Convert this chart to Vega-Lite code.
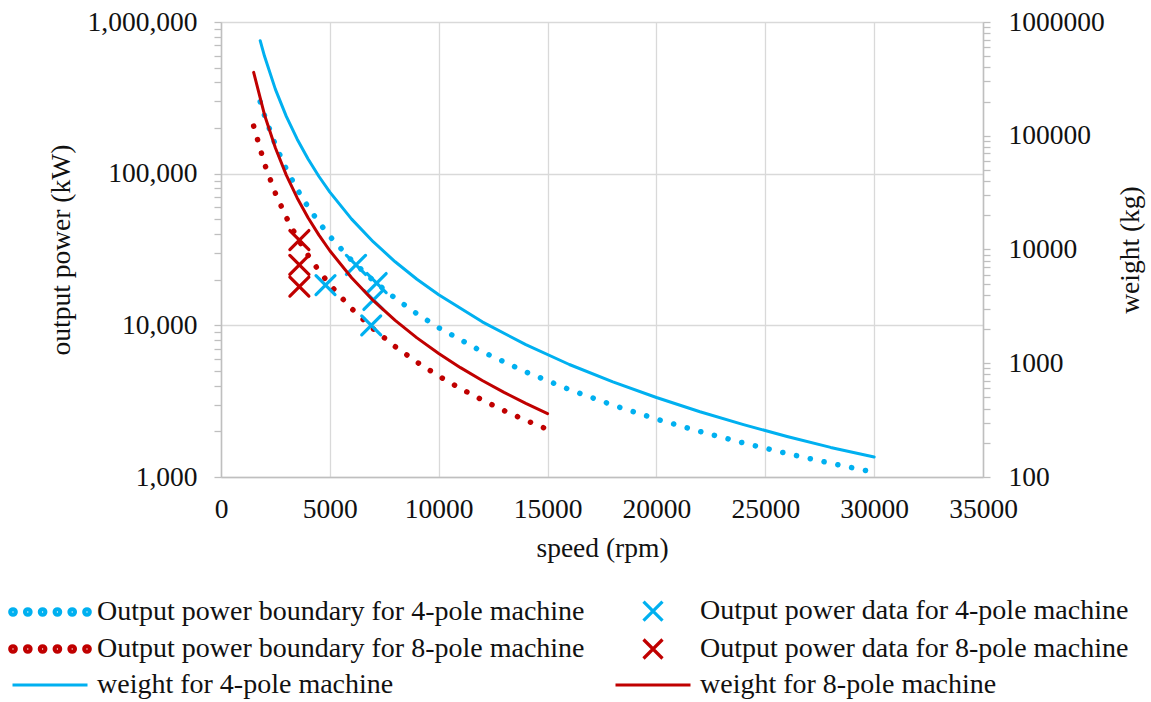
{
  "$schema": "https://vega.github.io/schema/vega-lite/v6.json",
  "width": 762,
  "height": 455,
  "autosize": {"type": "none"},
  "padding": {"left": 221, "top": 22, "right": 168, "bottom": 225},
  "background": "white",
  "config": {
    "font": "Liberation Serif",
    "view": {"stroke": null},
    "axis": {
      "labelFont": "Liberation Serif",
      "titleFont": "Liberation Serif",
      "labelFontSize": 27.5,
      "titleFontSize": 27.5,
      "titleFontWeight": "normal",
      "labelColor": "#111111",
      "titleColor": "#111111",
      "domainColor": "#bfbfbf",
      "tickColor": "#bfbfbf",
      "gridColor": "#d9d9d9",
      "domainWidth": 1.5,
      "tickWidth": 1.3,
      "gridWidth": 1.3,
      "labelFlush": false,
      "labelOverlap": false,
      "labelBound": false
    },
    "legend": {
      "labelFont": "Liberation Serif",
      "labelFontSize": 28,
      "labelColor": "#111111",
      "labelLimit": 700,
      "padding": 0
    }
  },
  "datasets": {
    "power": [
      {"series": "Output power boundary for 4-pole machine", "speed": 1800, "value": 298000},
      {"series": "Output power boundary for 4-pole machine", "speed": 2000, "value": 241400},
      {"series": "Output power boundary for 4-pole machine", "speed": 2500, "value": 154500},
      {"series": "Output power boundary for 4-pole machine", "speed": 3000, "value": 107300},
      {"series": "Output power boundary for 4-pole machine", "speed": 3500, "value": 78800},
      {"series": "Output power boundary for 4-pole machine", "speed": 4000, "value": 60300},
      {"series": "Output power boundary for 4-pole machine", "speed": 4500, "value": 47700},
      {"series": "Output power boundary for 4-pole machine", "speed": 5000, "value": 38600},
      {"series": "Output power boundary for 4-pole machine", "speed": 6000, "value": 26800},
      {"series": "Output power boundary for 4-pole machine", "speed": 7000, "value": 19700},
      {"series": "Output power boundary for 4-pole machine", "speed": 8000, "value": 15090},
      {"series": "Output power boundary for 4-pole machine", "speed": 9000, "value": 11920},
      {"series": "Output power boundary for 4-pole machine", "speed": 10000, "value": 9650},
      {"series": "Output power boundary for 4-pole machine", "speed": 12000, "value": 6700},
      {"series": "Output power boundary for 4-pole machine", "speed": 14000, "value": 4930},
      {"series": "Output power boundary for 4-pole machine", "speed": 16000, "value": 3770},
      {"series": "Output power boundary for 4-pole machine", "speed": 18000, "value": 2980},
      {"series": "Output power boundary for 4-pole machine", "speed": 20000, "value": 2410},
      {"series": "Output power boundary for 4-pole machine", "speed": 22000, "value": 1995},
      {"series": "Output power boundary for 4-pole machine", "speed": 24000, "value": 1676},
      {"series": "Output power boundary for 4-pole machine", "speed": 26000, "value": 1428},
      {"series": "Output power boundary for 4-pole machine", "speed": 28000, "value": 1232},
      {"series": "Output power boundary for 4-pole machine", "speed": 30000, "value": 1073},
      {"series": "Output power boundary for 8-pole machine", "speed": 1500, "value": 206000},
      {"series": "Output power boundary for 8-pole machine", "speed": 2000, "value": 115900},
      {"series": "Output power boundary for 8-pole machine", "speed": 2500, "value": 74200},
      {"series": "Output power boundary for 8-pole machine", "speed": 3000, "value": 51500},
      {"series": "Output power boundary for 8-pole machine", "speed": 3500, "value": 37800},
      {"series": "Output power boundary for 8-pole machine", "speed": 4000, "value": 28970},
      {"series": "Output power boundary for 8-pole machine", "speed": 4500, "value": 22890},
      {"series": "Output power boundary for 8-pole machine", "speed": 5000, "value": 18540},
      {"series": "Output power boundary for 8-pole machine", "speed": 6000, "value": 12880},
      {"series": "Output power boundary for 8-pole machine", "speed": 7000, "value": 9460},
      {"series": "Output power boundary for 8-pole machine", "speed": 8000, "value": 7240},
      {"series": "Output power boundary for 8-pole machine", "speed": 9000, "value": 5720},
      {"series": "Output power boundary for 8-pole machine", "speed": 10000, "value": 4635},
      {"series": "Output power boundary for 8-pole machine", "speed": 11000, "value": 3830},
      {"series": "Output power boundary for 8-pole machine", "speed": 12000, "value": 3220},
      {"series": "Output power boundary for 8-pole machine", "speed": 13000, "value": 2740},
      {"series": "Output power boundary for 8-pole machine", "speed": 14000, "value": 2365},
      {"series": "Output power boundary for 8-pole machine", "speed": 15000, "value": 2060}
    ],
    "points": [
      {"series": "Output power data for 4-pole machine", "speed": 4800, "value": 18400},
      {"series": "Output power data for 4-pole machine", "speed": 6200, "value": 25000},
      {"series": "Output power data for 4-pole machine", "speed": 7150, "value": 19000},
      {"series": "Output power data for 4-pole machine", "speed": 7000, "value": 14700},
      {"series": "Output power data for 4-pole machine", "speed": 6900, "value": 10000},
      {"series": "Output power data for 8-pole machine", "speed": 3600, "value": 36500},
      {"series": "Output power data for 8-pole machine", "speed": 3600, "value": 25000},
      {"series": "Output power data for 8-pole machine", "speed": 3600, "value": 18000}
    ],
    "weight": [
      {"series": "weight for 4-pole machine", "speed": 1800, "value": 685000},
      {"series": "weight for 4-pole machine", "speed": 2000, "value": 499400},
      {"series": "weight for 4-pole machine", "speed": 2500, "value": 255700},
      {"series": "weight for 4-pole machine", "speed": 3000, "value": 148000},
      {"series": "weight for 4-pole machine", "speed": 3500, "value": 93200},
      {"series": "weight for 4-pole machine", "speed": 4000, "value": 62400},
      {"series": "weight for 4-pole machine", "speed": 4500, "value": 43840},
      {"series": "weight for 4-pole machine", "speed": 5000, "value": 31960},
      {"series": "weight for 4-pole machine", "speed": 6000, "value": 18500},
      {"series": "weight for 4-pole machine", "speed": 7000, "value": 11650},
      {"series": "weight for 4-pole machine", "speed": 8000, "value": 7800},
      {"series": "weight for 4-pole machine", "speed": 9000, "value": 5480},
      {"series": "weight for 4-pole machine", "speed": 10000, "value": 3995},
      {"series": "weight for 4-pole machine", "speed": 12000, "value": 2312},
      {"series": "weight for 4-pole machine", "speed": 14000, "value": 1456},
      {"series": "weight for 4-pole machine", "speed": 16000, "value": 975},
      {"series": "weight for 4-pole machine", "speed": 18000, "value": 685},
      {"series": "weight for 4-pole machine", "speed": 20000, "value": 500},
      {"series": "weight for 4-pole machine", "speed": 22000, "value": 375},
      {"series": "weight for 4-pole machine", "speed": 24000, "value": 289},
      {"series": "weight for 4-pole machine", "speed": 26000, "value": 227},
      {"series": "weight for 4-pole machine", "speed": 28000, "value": 182},
      {"series": "weight for 4-pole machine", "speed": 30000, "value": 150},
      {"series": "weight for 8-pole machine", "speed": 1500, "value": 361000},
      {"series": "weight for 8-pole machine", "speed": 2000, "value": 152300},
      {"series": "weight for 8-pole machine", "speed": 2500, "value": 78000},
      {"series": "weight for 8-pole machine", "speed": 3000, "value": 45100},
      {"series": "weight for 8-pole machine", "speed": 3500, "value": 28400},
      {"series": "weight for 8-pole machine", "speed": 4000, "value": 19040},
      {"series": "weight for 8-pole machine", "speed": 4500, "value": 13370},
      {"series": "weight for 8-pole machine", "speed": 5000, "value": 9750},
      {"series": "weight for 8-pole machine", "speed": 6000, "value": 5640},
      {"series": "weight for 8-pole machine", "speed": 7000, "value": 3550},
      {"series": "weight for 8-pole machine", "speed": 8000, "value": 2380},
      {"series": "weight for 8-pole machine", "speed": 9000, "value": 1671},
      {"series": "weight for 8-pole machine", "speed": 10000, "value": 1218},
      {"series": "weight for 8-pole machine", "speed": 11000, "value": 915},
      {"series": "weight for 8-pole machine", "speed": 12000, "value": 705},
      {"series": "weight for 8-pole machine", "speed": 13000, "value": 555},
      {"series": "weight for 8-pole machine", "speed": 14000, "value": 444},
      {"series": "weight for 8-pole machine", "speed": 15000, "value": 361}
    ]
  },
  "encoding": {
    "x": {
      "field": "speed",
      "type": "quantitative",
      "scale": {"domain": [0, 35000], "nice": false, "zero": false},
      "axis": {
        "title": "speed (rpm)",
        "values": [0, 5000, 10000, 15000, 20000, 25000, 30000, 35000],
        "format": "d",
        "ticks": false,
        "labelPadding": 18,
        "titlePadding": 12,
        "grid": true
      }
    },
    "color": {
      "field": "series",
      "type": "nominal",
      "scale": {
        "domain": ["Output power boundary for 4-pole machine", "Output power boundary for 8-pole machine", "weight for 4-pole machine", "Output power data for 4-pole machine", "Output power data for 8-pole machine", "weight for 8-pole machine"],
        "range": ["#00b0f0", "#c00000", "#00b0f0", "#00b0f0", "#c00000", "#c00000"]
      },
      "legend": {"title": null, "orient": "none", "legendX": -209, "legendY": 575, "columns": 2, "symbolSize": 400, "symbolOffset": 24, "symbolStrokeWidth": 3, "labelOffset": 33, "rowPadding": 6, "columnPadding": 24, "labelFontSize": 28, "labelLimit": 700}
    },
    "strokeWidth": {
      "field": "series",
      "type": "nominal",
      "scale": {
        "type": "ordinal",
        "domain": ["Output power boundary for 4-pole machine", "Output power boundary for 8-pole machine", "weight for 4-pole machine", "Output power data for 4-pole machine", "Output power data for 8-pole machine", "weight for 8-pole machine"],
        "range": [5.5, 5.5, 3, 3.2, 3.2, 3]
      },
      "legend": {"title": null, "orient": "none", "legendX": -209, "legendY": 575, "columns": 2, "symbolSize": 400, "symbolOffset": 24, "symbolStrokeWidth": 3, "labelOffset": 33, "rowPadding": 6, "columnPadding": 24, "labelFontSize": 28, "labelLimit": 700}
    }
  },
  "layer": [
    {
      "layer": [
        {
          "data": {"name": "power"},
          "mark": {"type": "line", "strokeCap": "round", "strokeJoin": "round"},
          "encoding": {
            "y": {
              "field": "value",
              "type": "quantitative",
              "scale": {"type": "log", "domain": [1000, 1000000], "nice": false},
              "axis": {
                "title": "output power (kW)",
                "orient": "left",
                "values": [1000, 2000, 3000, 4000, 5000, 6000, 7000, 8000, 9000, 10000, 20000, 30000, 40000, 50000, 60000, 70000, 80000, 90000, 100000, 200000, 300000, 400000, 500000, 600000, 700000, 800000, 900000, 1000000],
                "labelExpr": "(datum.value == 1000 || datum.value == 10000 || datum.value == 100000 || datum.value == 1000000) ? format(datum.value, ',') : ''",
                "gridOpacity": {"condition": {"test": "datum.value == 1000 || datum.value == 10000 || datum.value == 100000 || datum.value == 1000000", "value": 1}, "value": 0},
                "grid": true,
                "tickSize": 7,
                "labelPadding": 17,
                "titlePadding": 12
              }
            },
            "strokeDash": {
              "field": "series",
              "type": "nominal",
              "scale": {
                "domain": ["Output power boundary for 4-pole machine", "Output power boundary for 8-pole machine"],
                "range": [[0.1, 14], [0.1, 14]]
              },
              "legend": null
            }
          }
        },
        {
          "data": {"name": "points"},
          "mark": {"type": "point", "filled": false, "opacity": 1, "size": 400, "strokeCap": "round"},
          "encoding": {
            "y": {"field": "value", "type": "quantitative"},
            "shape": {
              "field": "series",
              "type": "nominal",
              "scale": {
                "domain": ["Output power boundary for 4-pole machine", "Output power boundary for 8-pole machine", "weight for 4-pole machine", "Output power data for 4-pole machine", "Output power data for 8-pole machine", "weight for 8-pole machine"],
                "range": [
                  "M-3.77,0a0.07,0.07 0 1,0 0.14,0a0.07,0.07 0 1,0 -0.14,0M-3.84,0a0.14,0.14 0 1,0 0.28,0a0.14,0.14 0 1,0 -0.28,0M-3.91,0a0.21,0.21 0 1,0 0.42,0a0.21,0.21 0 1,0 -0.42,0M-2.29,0a0.07,0.07 0 1,0 0.14,0a0.07,0.07 0 1,0 -0.14,0M-2.36,0a0.14,0.14 0 1,0 0.28,0a0.14,0.14 0 1,0 -0.28,0M-2.43,0a0.21,0.21 0 1,0 0.42,0a0.21,0.21 0 1,0 -0.42,0M-0.81,0a0.07,0.07 0 1,0 0.14,0a0.07,0.07 0 1,0 -0.14,0M-0.88,0a0.14,0.14 0 1,0 0.28,0a0.14,0.14 0 1,0 -0.28,0M-0.95,0a0.21,0.21 0 1,0 0.42,0a0.21,0.21 0 1,0 -0.42,0M0.67,0a0.07,0.07 0 1,0 0.14,0a0.07,0.07 0 1,0 -0.14,0M0.6,0a0.14,0.14 0 1,0 0.28,0a0.14,0.14 0 1,0 -0.28,0M0.53,0a0.21,0.21 0 1,0 0.42,0a0.21,0.21 0 1,0 -0.42,0M2.15,0a0.07,0.07 0 1,0 0.14,0a0.07,0.07 0 1,0 -0.14,0M2.08,0a0.14,0.14 0 1,0 0.28,0a0.14,0.14 0 1,0 -0.28,0M2.01,0a0.21,0.21 0 1,0 0.42,0a0.21,0.21 0 1,0 -0.42,0M3.63,0a0.07,0.07 0 1,0 0.14,0a0.07,0.07 0 1,0 -0.14,0M3.56,0a0.14,0.14 0 1,0 0.28,0a0.14,0.14 0 1,0 -0.28,0M3.49,0a0.21,0.21 0 1,0 0.42,0a0.21,0.21 0 1,0 -0.42,0",
                  "M-3.77,0a0.07,0.07 0 1,0 0.14,0a0.07,0.07 0 1,0 -0.14,0M-3.84,0a0.14,0.14 0 1,0 0.28,0a0.14,0.14 0 1,0 -0.28,0M-3.91,0a0.21,0.21 0 1,0 0.42,0a0.21,0.21 0 1,0 -0.42,0M-2.29,0a0.07,0.07 0 1,0 0.14,0a0.07,0.07 0 1,0 -0.14,0M-2.36,0a0.14,0.14 0 1,0 0.28,0a0.14,0.14 0 1,0 -0.28,0M-2.43,0a0.21,0.21 0 1,0 0.42,0a0.21,0.21 0 1,0 -0.42,0M-0.81,0a0.07,0.07 0 1,0 0.14,0a0.07,0.07 0 1,0 -0.14,0M-0.88,0a0.14,0.14 0 1,0 0.28,0a0.14,0.14 0 1,0 -0.28,0M-0.95,0a0.21,0.21 0 1,0 0.42,0a0.21,0.21 0 1,0 -0.42,0M0.67,0a0.07,0.07 0 1,0 0.14,0a0.07,0.07 0 1,0 -0.14,0M0.6,0a0.14,0.14 0 1,0 0.28,0a0.14,0.14 0 1,0 -0.28,0M0.53,0a0.21,0.21 0 1,0 0.42,0a0.21,0.21 0 1,0 -0.42,0M2.15,0a0.07,0.07 0 1,0 0.14,0a0.07,0.07 0 1,0 -0.14,0M2.08,0a0.14,0.14 0 1,0 0.28,0a0.14,0.14 0 1,0 -0.28,0M2.01,0a0.21,0.21 0 1,0 0.42,0a0.21,0.21 0 1,0 -0.42,0M3.63,0a0.07,0.07 0 1,0 0.14,0a0.07,0.07 0 1,0 -0.14,0M3.56,0a0.14,0.14 0 1,0 0.28,0a0.14,0.14 0 1,0 -0.28,0M3.49,0a0.21,0.21 0 1,0 0.42,0a0.21,0.21 0 1,0 -0.42,0",
                  "M-3.75,0L3.75,0",
                  "M-0.95,-0.95L0.95,0.95M-0.95,0.95L0.95,-0.95",
                  "M-0.95,-0.95L0.95,0.95M-0.95,0.95L0.95,-0.95",
                  "M-3.75,0L3.75,0"
                ]
              },
              "legend": {"title": null, "orient": "none", "legendX": -209, "legendY": 575, "columns": 2, "symbolSize": 400, "symbolOffset": 24, "symbolStrokeWidth": 3, "labelOffset": 33, "rowPadding": 6, "columnPadding": 24, "labelFontSize": 28, "labelLimit": 700}
            }
          }
        }
      ]
    },
    {
      "data": {"name": "weight"},
      "mark": {"type": "line", "strokeCap": "round", "strokeJoin": "round"},
      "encoding": {
        "y": {
          "field": "value",
          "type": "quantitative",
          "scale": {"type": "log", "domain": [100, 1000000], "nice": false},
          "axis": {
            "title": "weight (kg)",
            "orient": "right",
            "titleAngle": -90,
            "values": [100, 200, 300, 400, 500, 600, 700, 800, 900, 1000, 2000, 3000, 4000, 5000, 6000, 7000, 8000, 9000, 10000, 20000, 30000, 40000, 50000, 60000, 70000, 80000, 90000, 100000, 200000, 300000, 400000, 500000, 600000, 700000, 800000, 900000, 1000000],
            "labelExpr": "(datum.value == 100 || datum.value == 1000 || datum.value == 10000 || datum.value == 100000 || datum.value == 1000000) ? format(datum.value, 'd') : ''",
            "grid": false,
            "tickSize": 7,
            "labelPadding": 18,
            "titlePadding": 40
          }
        }
      }
    }
  ],
  "resolve": {"scale": {"y": "independent"}, "axis": {"y": "independent"}}
}
